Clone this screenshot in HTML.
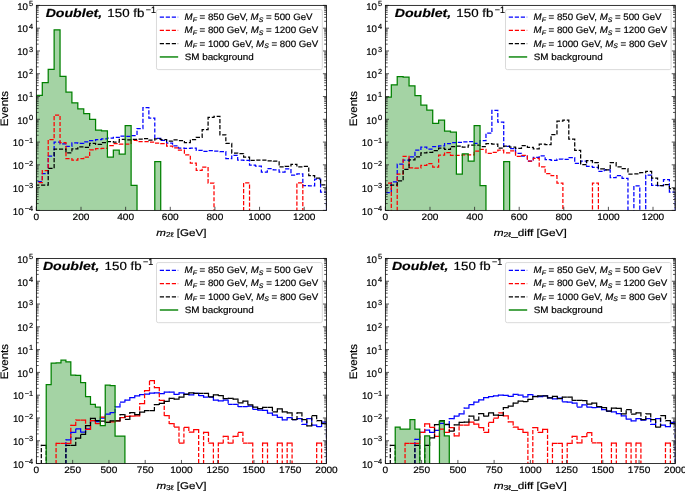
<!DOCTYPE html>
<html><head><meta charset="utf-8"><style>
html,body{margin:0;padding:0;background:#fff;width:685px;height:492px;overflow:hidden}
svg{display:block;will-change:transform}
text{font-family:"Liberation Sans", sans-serif;text-rendering:geometricPrecision;stroke:#000;stroke-width:0.18px}
</style></head><body>
<svg width="685" height="492" viewBox="0 0 685 492">
<rect width="685" height="492" fill="#fff"/>
<clipPath id="cTL"><rect x="36.37" y="5.4" width="290.13" height="205"/></clipPath>
<g clip-path="url(#cTL)">
<path d="M36.37 240.4 L36.37 95.4 L42.29 95.4 L42.29 82.5 L48.21 82.5 L48.21 69.3 L54.13 69.3 L54.13 29.8 L60.05 29.8 L60.05 76.3 L65.98 76.3 L65.98 92.2 L71.9 92.2 L71.9 102.8 L77.82 102.8 L77.82 108.9 L83.74 108.9 L83.74 113.7 L89.66 113.7 L89.66 119.3 L95.58 119.3 L95.58 130.1 L101.5 130.1 L101.5 130.8 L107.42 130.8 L107.42 157.2 L113.34 157.2 L113.34 150.2 L119.26 150.2 L119.26 154.2 L125.19 154.2 L125.19 125.5 L131.11 125.5 L131.11 185.4 L137.03 185.4 L137.03 240.4 L142.95 240.4 L148.87 240.4 L154.79 240.4 L154.79 161.5 L160.71 161.5 L160.71 240.4 L166.63 240.4 L172.55 240.4 L178.47 240.4 L184.4 240.4 L190.32 240.4 L196.24 240.4 L202.16 240.4 L208.08 240.4 L214 240.4 L219.92 240.4 L225.84 240.4 L231.76 240.4 L237.68 240.4 L243.61 240.4 L249.53 240.4 L255.45 240.4 L261.37 240.4 L267.29 240.4 L273.21 240.4 L279.13 240.4 L285.05 240.4 L290.97 240.4 L296.89 240.4 L302.82 240.4 L308.74 240.4 L314.66 240.4 L320.58 240.4 L326.5 240.4 Z" fill="#a4d3a4" stroke="none"/>
<path d="M36.37 240.4 L36.37 181.7 L42.29 181.7 L42.29 173.5 L48.21 173.5 L48.21 156 L54.13 156 L54.13 142 L60.05 142 L60.05 143.8 L65.98 143.8 L65.98 146.3 L71.9 146.3 L71.9 142.8 L77.82 142.8 L77.82 143.3 L83.74 143.3 L83.74 141.8 L89.66 141.8 L89.66 140.7 L95.58 140.7 L95.58 139.7 L101.5 139.7 L101.5 138.9 L107.42 138.9 L107.42 138.2 L113.34 138.2 L113.34 137.4 L119.26 137.4 L119.26 136.1 L125.19 136.1 L125.19 136.3 L131.11 136.3 L131.11 135.5 L137.03 135.5 L137.03 128.6 L142.95 128.6 L142.95 107.6 L148.87 107.6 L148.87 118.1 L154.79 118.1 L154.79 138.4 L160.71 138.4 L160.71 140.4 L166.63 140.4 L166.63 143 L172.55 143 L172.55 145.8 L178.47 145.8 L178.47 148 L184.4 148 L184.4 148.3 L190.32 148.3 L190.32 148.1 L196.24 148.1 L196.24 150.4 L202.16 150.4 L202.16 151.4 L208.08 151.4 L208.08 150.7 L214 150.7 L214 151.2 L219.92 151.2 L219.92 151.6 L225.84 151.6 L225.84 158.6 L231.76 158.6 L231.76 155.3 L237.68 155.3 L237.68 160.1 L243.61 160.1 L243.61 160.4 L249.53 160.4 L249.53 165.2 L255.45 165.2 L255.45 166.2 L261.37 166.2 L261.37 172 L267.29 172 L267.29 168.7 L273.21 168.7 L273.21 169.8 L279.13 169.8 L279.13 172 L285.05 172 L285.05 168.9 L290.97 168.9 L290.97 175 L296.89 175 L296.89 173.8 L302.82 173.8 L302.82 185.7 L308.74 185.7 L308.74 185.9 L314.66 185.9 L314.66 179.1 L320.58 179.1 L320.58 192 L326.5 192 L326.5 240.4" fill="none" stroke="#0000ff" stroke-width="1.25" stroke-dasharray="4.2 1.8" stroke-linejoin="miter"/>
<path d="M36.37 240.4 L36.37 182.7 L42.29 182.7 L42.29 170.7 L48.21 170.7 L48.21 139.5 L54.13 139.5 L54.13 115 L60.05 115 L60.05 142.5 L65.98 142.5 L65.98 158.6 L71.9 158.6 L71.9 160.1 L77.82 160.1 L77.82 158.6 L83.74 158.6 L83.74 157 L89.66 157 L89.66 149.8 L95.58 149.8 L95.58 148.6 L101.5 148.6 L101.5 148.4 L107.42 148.4 L107.42 145.5 L113.34 145.5 L113.34 143.7 L119.26 143.7 L119.26 144 L125.19 144 L131.11 144 L131.11 140.4 L137.03 140.4 L137.03 141.5 L142.95 141.5 L148.87 141.5 L148.87 142 L154.79 142 L154.79 143 L160.71 143 L160.71 143.5 L166.63 143.5 L166.63 146.2 L172.55 146.2 L172.55 147.8 L178.47 147.8 L178.47 150.2 L184.4 150.2 L184.4 154.8 L190.32 154.8 L190.32 163.2 L196.24 163.2 L196.24 170.4 L202.16 170.4 L202.16 167 L208.08 167 L208.08 183.2 L214 183.2 L214 240.4 L219.92 240.4 L225.84 240.4 L231.76 240.4 L237.68 240.4 L243.61 240.4 L243.61 182.8 L249.53 182.8 L249.53 240.4 L255.45 240.4 L261.37 240.4 L267.29 240.4 L273.21 240.4 L279.13 240.4 L285.05 240.4 L290.97 240.4 L296.89 240.4 L296.89 182.8 L302.82 182.8 L302.82 240.4 L308.74 240.4 L314.66 240.4 L320.58 240.4 L326.5 240.4" fill="none" stroke="#ff0000" stroke-width="1.25" stroke-dasharray="4.2 1.8" stroke-linejoin="miter"/>
<path d="M36.37 240.4 L36.37 185.1 L42.29 185.1 L48.21 185.1 L48.21 168.4 L54.13 168.4 L54.13 149 L60.05 149 L65.98 149 L65.98 152.8 L71.9 152.8 L71.9 148.9 L77.82 148.9 L77.82 146.9 L83.74 146.9 L83.74 147.4 L89.66 147.4 L89.66 143.3 L95.58 143.3 L95.58 144.3 L101.5 144.3 L101.5 142.5 L107.42 142.5 L107.42 141.5 L113.34 141.5 L113.34 142 L119.26 142 L119.26 139.4 L125.19 139.4 L125.19 139.9 L131.11 139.9 L131.11 139.4 L137.03 139.4 L137.03 139.2 L142.95 139.2 L142.95 138.6 L148.87 138.6 L148.87 140.2 L154.79 140.2 L154.79 138.9 L160.71 138.9 L160.71 139.6 L166.63 139.6 L166.63 141.2 L172.55 141.2 L172.55 139.9 L178.47 139.9 L178.47 140.5 L184.4 140.5 L184.4 142.5 L190.32 142.5 L190.32 139.6 L196.24 139.6 L196.24 137.4 L202.16 137.4 L202.16 129.6 L208.08 129.6 L208.08 117.4 L214 117.4 L214 116.3 L219.92 116.3 L219.92 134.8 L225.84 134.8 L225.84 143.4 L231.76 143.4 L231.76 153 L237.68 153 L237.68 153.5 L243.61 153.5 L243.61 157 L249.53 157 L249.53 160.4 L255.45 160.4 L255.45 160.1 L261.37 160.1 L267.29 160.1 L267.29 160.8 L273.21 160.8 L273.21 161.2 L279.13 161.2 L279.13 166.9 L285.05 166.9 L285.05 166.4 L290.97 166.4 L290.97 164.3 L296.89 164.3 L296.89 166.9 L302.82 166.9 L302.82 166.4 L308.74 166.4 L308.74 175.5 L314.66 175.5 L314.66 178.1 L320.58 178.1 L320.58 184.9 L326.5 184.9 L326.5 240.4" fill="none" stroke="#000000" stroke-width="1.25" stroke-dasharray="4.2 1.8" stroke-linejoin="miter"/>
<path d="M36.37 240.4 L36.37 95.4 L42.29 95.4 L42.29 82.5 L48.21 82.5 L48.21 69.3 L54.13 69.3 L54.13 29.8 L60.05 29.8 L60.05 76.3 L65.98 76.3 L65.98 92.2 L71.9 92.2 L71.9 102.8 L77.82 102.8 L77.82 108.9 L83.74 108.9 L83.74 113.7 L89.66 113.7 L89.66 119.3 L95.58 119.3 L95.58 130.1 L101.5 130.1 L101.5 130.8 L107.42 130.8 L107.42 157.2 L113.34 157.2 L113.34 150.2 L119.26 150.2 L119.26 154.2 L125.19 154.2 L125.19 125.5 L131.11 125.5 L131.11 185.4 L137.03 185.4 L137.03 240.4 L142.95 240.4 L148.87 240.4 L154.79 240.4 L154.79 161.5 L160.71 161.5 L160.71 240.4 L166.63 240.4 L172.55 240.4 L178.47 240.4 L184.4 240.4 L190.32 240.4 L196.24 240.4 L202.16 240.4 L208.08 240.4 L214 240.4 L219.92 240.4 L225.84 240.4 L231.76 240.4 L237.68 240.4 L243.61 240.4 L249.53 240.4 L255.45 240.4 L261.37 240.4 L267.29 240.4 L273.21 240.4 L279.13 240.4 L285.05 240.4 L290.97 240.4 L296.89 240.4 L302.82 240.4 L308.74 240.4 L314.66 240.4 L320.58 240.4 L326.5 240.4" fill="none" stroke="#008000" stroke-width="1.25" stroke-linejoin="miter"/>
</g>
<path d="M36.37 210.4h3.6 M326.5 210.4h-3.6 M36.37 203.54h2.3 M326.5 203.54h-2.3 M36.37 199.53h2.3 M326.5 199.53h-2.3 M36.37 196.69h2.3 M326.5 196.69h-2.3 M36.37 194.48h2.3 M326.5 194.48h-2.3 M36.37 192.68h2.3 M326.5 192.68h-2.3 M36.37 191.15h2.3 M326.5 191.15h-2.3 M36.37 189.83h2.3 M326.5 189.83h-2.3 M36.37 188.66h2.3 M326.5 188.66h-2.3 M36.37 187.62h3.6 M326.5 187.62h-3.6 M36.37 180.77h2.3 M326.5 180.77h-2.3 M36.37 176.75h2.3 M326.5 176.75h-2.3 M36.37 173.91h2.3 M326.5 173.91h-2.3 M36.37 171.7h2.3 M326.5 171.7h-2.3 M36.37 169.9h2.3 M326.5 169.9h-2.3 M36.37 168.37h2.3 M326.5 168.37h-2.3 M36.37 167.05h2.3 M326.5 167.05h-2.3 M36.37 165.89h2.3 M326.5 165.89h-2.3 M36.37 164.84h3.6 M326.5 164.84h-3.6 M36.37 157.99h2.3 M326.5 157.99h-2.3 M36.37 153.98h2.3 M326.5 153.98h-2.3 M36.37 151.13h2.3 M326.5 151.13h-2.3 M36.37 148.92h2.3 M326.5 148.92h-2.3 M36.37 147.12h2.3 M326.5 147.12h-2.3 M36.37 145.59h2.3 M326.5 145.59h-2.3 M36.37 144.27h2.3 M326.5 144.27h-2.3 M36.37 143.11h2.3 M326.5 143.11h-2.3 M36.37 142.07h3.6 M326.5 142.07h-3.6 M36.37 135.21h2.3 M326.5 135.21h-2.3 M36.37 131.2h2.3 M326.5 131.2h-2.3 M36.37 128.35h2.3 M326.5 128.35h-2.3 M36.37 126.15h2.3 M326.5 126.15h-2.3 M36.37 124.34h2.3 M326.5 124.34h-2.3 M36.37 122.82h2.3 M326.5 122.82h-2.3 M36.37 121.5h2.3 M326.5 121.5h-2.3 M36.37 120.33h2.3 M326.5 120.33h-2.3 M36.37 119.29h3.6 M326.5 119.29h-3.6 M36.37 112.43h2.3 M326.5 112.43h-2.3 M36.37 108.42h2.3 M326.5 108.42h-2.3 M36.37 105.58h2.3 M326.5 105.58h-2.3 M36.37 103.37h2.3 M326.5 103.37h-2.3 M36.37 101.56h2.3 M326.5 101.56h-2.3 M36.37 100.04h2.3 M326.5 100.04h-2.3 M36.37 98.72h2.3 M326.5 98.72h-2.3 M36.37 97.55h2.3 M326.5 97.55h-2.3 M36.37 96.51h3.6 M326.5 96.51h-3.6 M36.37 89.65h2.3 M326.5 89.65h-2.3 M36.37 85.64h2.3 M326.5 85.64h-2.3 M36.37 82.8h2.3 M326.5 82.8h-2.3 M36.37 80.59h2.3 M326.5 80.59h-2.3 M36.37 78.79h2.3 M326.5 78.79h-2.3 M36.37 77.26h2.3 M326.5 77.26h-2.3 M36.37 75.94h2.3 M326.5 75.94h-2.3 M36.37 74.78h2.3 M326.5 74.78h-2.3 M36.37 73.73h3.6 M326.5 73.73h-3.6 M36.37 66.88h2.3 M326.5 66.88h-2.3 M36.37 62.87h2.3 M326.5 62.87h-2.3 M36.37 60.02h2.3 M326.5 60.02h-2.3 M36.37 57.81h2.3 M326.5 57.81h-2.3 M36.37 56.01h2.3 M326.5 56.01h-2.3 M36.37 54.48h2.3 M326.5 54.48h-2.3 M36.37 53.16h2.3 M326.5 53.16h-2.3 M36.37 52h2.3 M326.5 52h-2.3 M36.37 50.96h3.6 M326.5 50.96h-3.6 M36.37 44.1h2.3 M326.5 44.1h-2.3 M36.37 40.09h2.3 M326.5 40.09h-2.3 M36.37 37.24h2.3 M326.5 37.24h-2.3 M36.37 35.03h2.3 M326.5 35.03h-2.3 M36.37 33.23h2.3 M326.5 33.23h-2.3 M36.37 31.71h2.3 M326.5 31.71h-2.3 M36.37 30.39h2.3 M326.5 30.39h-2.3 M36.37 29.22h2.3 M326.5 29.22h-2.3 M36.37 28.18h3.6 M326.5 28.18h-3.6 M36.37 21.32h2.3 M326.5 21.32h-2.3 M36.37 17.31h2.3 M326.5 17.31h-2.3 M36.37 14.46h2.3 M326.5 14.46h-2.3 M36.37 12.26h2.3 M326.5 12.26h-2.3 M36.37 10.45h2.3 M326.5 10.45h-2.3 M36.37 8.93h2.3 M326.5 8.93h-2.3 M36.37 7.61h2.3 M326.5 7.61h-2.3 M36.37 6.44h2.3 M326.5 6.44h-2.3 M36.37 5.4h3.6 M326.5 5.4h-3.6 M36.37 210.4v-3.6 M81.01 210.4v-3.6 M125.64 210.4v-3.6 M170.28 210.4v-3.6 M214.91 210.4v-3.6 M259.55 210.4v-3.6 M304.18 210.4v-3.6" stroke="#2a2a2a" stroke-width="0.8" fill="none"/>
<rect x="36.37" y="5.4" width="290.13" height="205" fill="none" stroke="#111" stroke-width="0.85"/>
<text x="33.07" y="214.7" font-size="9.7" text-anchor="end" fill="#000">10<tspan dx="1.0" dy="-3.6" font-size="7.4">−4</tspan></text>
<text x="33.07" y="191.92" font-size="9.7" text-anchor="end" fill="#000">10<tspan dx="1.0" dy="-3.6" font-size="7.4">−3</tspan></text>
<text x="33.07" y="169.14" font-size="9.7" text-anchor="end" fill="#000">10<tspan dx="1.0" dy="-3.6" font-size="7.4">−2</tspan></text>
<text x="33.07" y="146.37" font-size="9.7" text-anchor="end" fill="#000">10<tspan dx="1.0" dy="-3.6" font-size="7.4">−1</tspan></text>
<text x="33.07" y="123.59" font-size="9.7" text-anchor="end" fill="#000">10<tspan dx="1.0" dy="-3.6" font-size="7.4">0</tspan></text>
<text x="33.07" y="100.81" font-size="9.7" text-anchor="end" fill="#000">10<tspan dx="1.0" dy="-3.6" font-size="7.4">1</tspan></text>
<text x="33.07" y="78.03" font-size="9.7" text-anchor="end" fill="#000">10<tspan dx="1.0" dy="-3.6" font-size="7.4">2</tspan></text>
<text x="33.07" y="55.26" font-size="9.7" text-anchor="end" fill="#000">10<tspan dx="1.0" dy="-3.6" font-size="7.4">3</tspan></text>
<text x="33.07" y="32.48" font-size="9.7" text-anchor="end" fill="#000">10<tspan dx="1.0" dy="-3.6" font-size="7.4">4</tspan></text>
<text x="33.07" y="9.7" font-size="9.7" text-anchor="end" fill="#000">10<tspan dx="1.0" dy="-3.6" font-size="7.4">5</tspan></text>
<text x="36.37" y="220.3" font-size="9.3" text-anchor="middle" textLength="5.6" lengthAdjust="spacingAndGlyphs" fill="#000">0</text>
<text x="81.01" y="220.3" font-size="9.3" text-anchor="middle" textLength="16.8" lengthAdjust="spacingAndGlyphs" fill="#000">200</text>
<text x="125.64" y="220.3" font-size="9.3" text-anchor="middle" textLength="16.8" lengthAdjust="spacingAndGlyphs" fill="#000">400</text>
<text x="170.28" y="220.3" font-size="9.3" text-anchor="middle" textLength="16.8" lengthAdjust="spacingAndGlyphs" fill="#000">600</text>
<text x="214.91" y="220.3" font-size="9.3" text-anchor="middle" textLength="16.8" lengthAdjust="spacingAndGlyphs" fill="#000">800</text>
<text x="259.55" y="220.3" font-size="9.3" text-anchor="middle" textLength="22.4" lengthAdjust="spacingAndGlyphs" fill="#000">1000</text>
<text x="304.18" y="220.3" font-size="9.3" text-anchor="middle" textLength="22.4" lengthAdjust="spacingAndGlyphs" fill="#000">1200</text>
<text x="156.37" y="235.7" font-size="9.8" textLength="50" lengthAdjust="spacingAndGlyphs" fill="#000"><tspan font-style="italic">m</tspan><tspan font-size="7.2" dy="1.6">2ℓ</tspan><tspan dy="-1.6"> [GeV]</tspan></text>
<text transform="translate(7.67 126.2) rotate(-90)" font-size="10.8" textLength="35.3" lengthAdjust="spacingAndGlyphs" fill="#000">Events</text>
<text x="45.67" y="17.1" font-size="11.8" textLength="56.5" lengthAdjust="spacingAndGlyphs" font-weight="bold" font-style="italic" stroke="#000" stroke-width="0.25" fill="#000">Doublet,</text>
<text x="107.37" y="17.1" font-size="11.8" textLength="37" lengthAdjust="spacingAndGlyphs" fill="#000">150 fb</text>
<text x="145.82" y="12.7" font-size="9.3" textLength="10.2" lengthAdjust="spacingAndGlyphs" fill="#000">−1</text>
<rect x="156.47" y="9.5" width="165.83" height="60.1" rx="1.8" fill="#fff" fill-opacity="0.8" stroke="#d6d6d6" stroke-width="0.9"/>
<path d="M159.77 17.2H178.17" stroke="#0000ff" stroke-width="1.25" stroke-dasharray="4.2 1.8"/>
<text x="184.57" y="20" font-size="9.3" textLength="128" lengthAdjust="spacingAndGlyphs" fill="#000"><tspan font-style="italic">M</tspan><tspan font-style="italic" font-size="6.6" dy="1.6">F</tspan><tspan dy="-1.6"> = 850 GeV, </tspan><tspan font-style="italic">M</tspan><tspan font-style="italic" font-size="6.6" dy="1.6">S</tspan><tspan dy="-1.6"> = 500 GeV</tspan></text>
<path d="M159.77 30.45H178.17" stroke="#ff0000" stroke-width="1.25" stroke-dasharray="4.2 1.8"/>
<text x="184.57" y="33.25" font-size="9.3" textLength="133.6" lengthAdjust="spacingAndGlyphs" fill="#000"><tspan font-style="italic">M</tspan><tspan font-style="italic" font-size="6.6" dy="1.6">F</tspan><tspan dy="-1.6"> = 800 GeV, </tspan><tspan font-style="italic">M</tspan><tspan font-style="italic" font-size="6.6" dy="1.6">S</tspan><tspan dy="-1.6"> = 1200 GeV</tspan></text>
<path d="M159.77 43.7H178.17" stroke="#000000" stroke-width="1.25" stroke-dasharray="4.2 1.8"/>
<text x="184.57" y="46.5" font-size="9.3" textLength="133.6" lengthAdjust="spacingAndGlyphs" fill="#000"><tspan font-style="italic">M</tspan><tspan font-style="italic" font-size="6.6" dy="1.6">F</tspan><tspan dy="-1.6"> = 1000 GeV, </tspan><tspan font-style="italic">M</tspan><tspan font-style="italic" font-size="6.6" dy="1.6">S</tspan><tspan dy="-1.6"> = 800 GeV</tspan></text>
<path d="M159.77 56.95H178.17" stroke="#008000" stroke-width="1.4"/>
<text x="184.67" y="59.75" font-size="9.3" textLength="69" lengthAdjust="spacingAndGlyphs" fill="#000">SM background</text>
<clipPath id="cTR"><rect x="385.39" y="5.4" width="289.91" height="205"/></clipPath>
<g clip-path="url(#cTR)">
<path d="M385.39 240.4 L385.39 97 L391.31 97 L391.31 84.8 L397.22 84.8 L397.22 76.6 L403.14 76.6 L403.14 77.2 L409.06 77.2 L409.06 85.8 L414.97 85.8 L414.97 95.6 L420.89 95.6 L420.89 105.2 L426.81 105.2 L426.81 110.2 L432.72 110.2 L432.72 123.3 L438.64 123.3 L438.64 120.2 L444.56 120.2 L444.56 131.2 L450.47 131.2 L450.47 132.2 L456.39 132.2 L456.39 174.2 L462.3 174.2 L462.3 153.8 L468.22 153.8 L468.22 161 L474.14 161 L474.14 125.5 L480.05 125.5 L480.05 185.5 L485.97 185.5 L485.97 240.4 L491.89 240.4 L497.8 240.4 L503.72 240.4 L503.72 161.5 L509.64 161.5 L509.64 240.4 L515.55 240.4 L521.47 240.4 L527.39 240.4 L533.3 240.4 L539.22 240.4 L545.14 240.4 L551.05 240.4 L556.97 240.4 L562.89 240.4 L568.8 240.4 L574.72 240.4 L580.64 240.4 L586.55 240.4 L592.47 240.4 L598.39 240.4 L604.3 240.4 L610.22 240.4 L616.13 240.4 L622.05 240.4 L627.97 240.4 L633.88 240.4 L639.8 240.4 L645.72 240.4 L651.63 240.4 L657.55 240.4 L663.47 240.4 L669.38 240.4 L675.3 240.4 Z" fill="#a4d3a4" stroke="none"/>
<path d="M385.39 240.4 L385.39 192.6 L391.31 192.6 L391.31 181.9 L397.22 181.9 L397.22 164.2 L403.14 164.2 L403.14 160.2 L409.06 160.2 L409.06 156.9 L414.97 156.9 L414.97 150.2 L420.89 150.2 L420.89 147.2 L426.81 147.2 L426.81 149 L432.72 149 L432.72 146.6 L438.64 146.6 L438.64 145.9 L444.56 145.9 L444.56 143.6 L450.47 143.6 L450.47 142.7 L456.39 142.7 L456.39 142.4 L462.3 142.4 L462.3 141.9 L468.22 141.9 L468.22 141.7 L474.14 141.7 L474.14 143.4 L480.05 143.4 L480.05 140.7 L485.97 140.7 L485.97 133.2 L491.89 133.2 L491.89 110.4 L497.8 110.4 L497.8 122 L503.72 122 L503.72 146.3 L509.64 146.3 L509.64 148.7 L515.55 148.7 L515.55 153.3 L521.47 153.3 L521.47 156.1 L527.39 156.1 L527.39 161 L533.3 161 L533.3 157.4 L539.22 157.4 L539.22 155.8 L545.14 155.8 L545.14 159.6 L551.05 159.6 L551.05 160.4 L556.97 160.4 L556.97 159.2 L562.89 159.2 L562.89 159.4 L568.8 159.4 L568.8 157.5 L574.72 157.5 L574.72 163.4 L580.64 163.4 L580.64 161.2 L586.55 161.2 L586.55 166.3 L592.47 166.3 L592.47 167.3 L598.39 167.3 L598.39 171.4 L604.3 171.4 L604.3 169.9 L610.22 169.9 L610.22 177.7 L616.13 177.7 L616.13 175.5 L622.05 175.5 L622.05 178.4 L627.97 178.4 L627.97 240.4 L633.88 240.4 L633.88 185.9 L639.8 185.9 L639.8 240.4 L645.72 240.4 L645.72 175 L651.63 175 L651.63 185.3 L657.55 185.3 L657.55 185.6 L663.47 185.6 L663.47 179.6 L669.38 179.6 L669.38 192.2 L675.3 192.2 L675.3 240.4" fill="none" stroke="#0000ff" stroke-width="1.25" stroke-dasharray="4.2 1.8" stroke-linejoin="miter"/>
<path d="M385.39 240.4 L385.39 183 L391.31 183 L391.31 240.4 L397.22 240.4 L397.22 174.1 L403.14 174.1 L403.14 156.3 L409.06 156.3 L409.06 167.8 L414.97 167.8 L414.97 168.1 L420.89 168.1 L420.89 165.3 L426.81 165.3 L426.81 163.7 L432.72 163.7 L432.72 167.1 L438.64 167.1 L438.64 155.1 L444.56 155.1 L444.56 152.5 L450.47 152.5 L450.47 155.3 L456.39 155.3 L462.3 155.3 L462.3 154.8 L468.22 154.8 L474.14 154.8 L474.14 151 L480.05 151 L480.05 149.4 L485.97 149.4 L485.97 153.3 L491.89 153.3 L491.89 152.3 L497.8 152.3 L497.8 150.2 L503.72 150.2 L503.72 152.8 L509.64 152.8 L509.64 150.9 L515.55 150.9 L515.55 156.3 L521.47 156.3 L521.47 155.3 L527.39 155.3 L527.39 161 L533.3 161 L533.3 158.4 L539.22 158.4 L539.22 166.8 L545.14 166.8 L545.14 173.6 L551.05 173.6 L551.05 175.7 L556.97 175.7 L556.97 183.1 L562.89 183.1 L562.89 240.4 L568.8 240.4 L574.72 240.4 L580.64 240.4 L586.55 240.4 L592.47 240.4 L592.47 183.2 L598.39 183.2 L598.39 240.4 L604.3 240.4 L610.22 240.4 L616.13 240.4 L622.05 240.4 L627.97 240.4 L633.88 240.4 L639.8 240.4 L645.72 240.4 L651.63 240.4 L657.55 240.4 L663.47 240.4 L669.38 240.4 L675.3 240.4" fill="none" stroke="#ff0000" stroke-width="1.25" stroke-dasharray="4.2 1.8" stroke-linejoin="miter"/>
<path d="M385.39 240.4 L385.39 185 L391.31 185 L397.22 185 L397.22 180.9 L403.14 180.9 L403.14 169.3 L409.06 169.3 L409.06 159.9 L414.97 159.9 L414.97 156.9 L420.89 156.9 L420.89 152.8 L426.81 152.8 L426.81 152.3 L432.72 152.3 L432.72 150.7 L438.64 150.7 L438.64 148.2 L444.56 148.2 L444.56 149.4 L450.47 149.4 L450.47 146.5 L456.39 146.5 L456.39 146 L462.3 146 L462.3 147.2 L468.22 147.2 L468.22 145 L474.14 145 L480.05 145 L480.05 146.5 L485.97 146.5 L485.97 143.7 L491.89 143.7 L491.89 144.1 L497.8 144.1 L497.8 148 L503.72 148 L503.72 146 L509.64 146 L509.64 147.2 L515.55 147.2 L515.55 148.3 L521.47 148.3 L521.47 145.6 L527.39 145.6 L527.39 147.3 L533.3 147.3 L533.3 148.8 L539.22 148.8 L539.22 144.2 L545.14 144.2 L545.14 144.7 L551.05 144.7 L551.05 134.7 L556.97 134.7 L556.97 121.2 L562.89 121.2 L562.89 120.2 L568.8 120.2 L568.8 139 L574.72 139 L574.72 150.3 L580.64 150.3 L580.64 164.7 L586.55 164.7 L586.55 160.7 L592.47 160.7 L592.47 162.7 L598.39 162.7 L598.39 168.8 L604.3 168.8 L604.3 169.9 L610.22 169.9 L610.22 162.6 L616.13 162.6 L616.13 166.9 L622.05 166.9 L622.05 168.7 L627.97 168.7 L627.97 174 L633.88 174 L633.88 173.9 L639.8 173.9 L639.8 172.7 L645.72 172.7 L645.72 171.4 L651.63 171.4 L651.63 178 L657.55 178 L657.55 185.6 L663.47 185.6 L663.47 184.7 L669.38 184.7 L669.38 188.5 L675.3 188.5 L675.3 240.4" fill="none" stroke="#000000" stroke-width="1.25" stroke-dasharray="4.2 1.8" stroke-linejoin="miter"/>
<path d="M385.39 240.4 L385.39 97 L391.31 97 L391.31 84.8 L397.22 84.8 L397.22 76.6 L403.14 76.6 L403.14 77.2 L409.06 77.2 L409.06 85.8 L414.97 85.8 L414.97 95.6 L420.89 95.6 L420.89 105.2 L426.81 105.2 L426.81 110.2 L432.72 110.2 L432.72 123.3 L438.64 123.3 L438.64 120.2 L444.56 120.2 L444.56 131.2 L450.47 131.2 L450.47 132.2 L456.39 132.2 L456.39 174.2 L462.3 174.2 L462.3 153.8 L468.22 153.8 L468.22 161 L474.14 161 L474.14 125.5 L480.05 125.5 L480.05 185.5 L485.97 185.5 L485.97 240.4 L491.89 240.4 L497.8 240.4 L503.72 240.4 L503.72 161.5 L509.64 161.5 L509.64 240.4 L515.55 240.4 L521.47 240.4 L527.39 240.4 L533.3 240.4 L539.22 240.4 L545.14 240.4 L551.05 240.4 L556.97 240.4 L562.89 240.4 L568.8 240.4 L574.72 240.4 L580.64 240.4 L586.55 240.4 L592.47 240.4 L598.39 240.4 L604.3 240.4 L610.22 240.4 L616.13 240.4 L622.05 240.4 L627.97 240.4 L633.88 240.4 L639.8 240.4 L645.72 240.4 L651.63 240.4 L657.55 240.4 L663.47 240.4 L669.38 240.4 L675.3 240.4" fill="none" stroke="#008000" stroke-width="1.25" stroke-linejoin="miter"/>
</g>
<path d="M385.39 210.4h3.6 M675.3 210.4h-3.6 M385.39 203.54h2.3 M675.3 203.54h-2.3 M385.39 199.53h2.3 M675.3 199.53h-2.3 M385.39 196.69h2.3 M675.3 196.69h-2.3 M385.39 194.48h2.3 M675.3 194.48h-2.3 M385.39 192.68h2.3 M675.3 192.68h-2.3 M385.39 191.15h2.3 M675.3 191.15h-2.3 M385.39 189.83h2.3 M675.3 189.83h-2.3 M385.39 188.66h2.3 M675.3 188.66h-2.3 M385.39 187.62h3.6 M675.3 187.62h-3.6 M385.39 180.77h2.3 M675.3 180.77h-2.3 M385.39 176.75h2.3 M675.3 176.75h-2.3 M385.39 173.91h2.3 M675.3 173.91h-2.3 M385.39 171.7h2.3 M675.3 171.7h-2.3 M385.39 169.9h2.3 M675.3 169.9h-2.3 M385.39 168.37h2.3 M675.3 168.37h-2.3 M385.39 167.05h2.3 M675.3 167.05h-2.3 M385.39 165.89h2.3 M675.3 165.89h-2.3 M385.39 164.84h3.6 M675.3 164.84h-3.6 M385.39 157.99h2.3 M675.3 157.99h-2.3 M385.39 153.98h2.3 M675.3 153.98h-2.3 M385.39 151.13h2.3 M675.3 151.13h-2.3 M385.39 148.92h2.3 M675.3 148.92h-2.3 M385.39 147.12h2.3 M675.3 147.12h-2.3 M385.39 145.59h2.3 M675.3 145.59h-2.3 M385.39 144.27h2.3 M675.3 144.27h-2.3 M385.39 143.11h2.3 M675.3 143.11h-2.3 M385.39 142.07h3.6 M675.3 142.07h-3.6 M385.39 135.21h2.3 M675.3 135.21h-2.3 M385.39 131.2h2.3 M675.3 131.2h-2.3 M385.39 128.35h2.3 M675.3 128.35h-2.3 M385.39 126.15h2.3 M675.3 126.15h-2.3 M385.39 124.34h2.3 M675.3 124.34h-2.3 M385.39 122.82h2.3 M675.3 122.82h-2.3 M385.39 121.5h2.3 M675.3 121.5h-2.3 M385.39 120.33h2.3 M675.3 120.33h-2.3 M385.39 119.29h3.6 M675.3 119.29h-3.6 M385.39 112.43h2.3 M675.3 112.43h-2.3 M385.39 108.42h2.3 M675.3 108.42h-2.3 M385.39 105.58h2.3 M675.3 105.58h-2.3 M385.39 103.37h2.3 M675.3 103.37h-2.3 M385.39 101.56h2.3 M675.3 101.56h-2.3 M385.39 100.04h2.3 M675.3 100.04h-2.3 M385.39 98.72h2.3 M675.3 98.72h-2.3 M385.39 97.55h2.3 M675.3 97.55h-2.3 M385.39 96.51h3.6 M675.3 96.51h-3.6 M385.39 89.65h2.3 M675.3 89.65h-2.3 M385.39 85.64h2.3 M675.3 85.64h-2.3 M385.39 82.8h2.3 M675.3 82.8h-2.3 M385.39 80.59h2.3 M675.3 80.59h-2.3 M385.39 78.79h2.3 M675.3 78.79h-2.3 M385.39 77.26h2.3 M675.3 77.26h-2.3 M385.39 75.94h2.3 M675.3 75.94h-2.3 M385.39 74.78h2.3 M675.3 74.78h-2.3 M385.39 73.73h3.6 M675.3 73.73h-3.6 M385.39 66.88h2.3 M675.3 66.88h-2.3 M385.39 62.87h2.3 M675.3 62.87h-2.3 M385.39 60.02h2.3 M675.3 60.02h-2.3 M385.39 57.81h2.3 M675.3 57.81h-2.3 M385.39 56.01h2.3 M675.3 56.01h-2.3 M385.39 54.48h2.3 M675.3 54.48h-2.3 M385.39 53.16h2.3 M675.3 53.16h-2.3 M385.39 52h2.3 M675.3 52h-2.3 M385.39 50.96h3.6 M675.3 50.96h-3.6 M385.39 44.1h2.3 M675.3 44.1h-2.3 M385.39 40.09h2.3 M675.3 40.09h-2.3 M385.39 37.24h2.3 M675.3 37.24h-2.3 M385.39 35.03h2.3 M675.3 35.03h-2.3 M385.39 33.23h2.3 M675.3 33.23h-2.3 M385.39 31.71h2.3 M675.3 31.71h-2.3 M385.39 30.39h2.3 M675.3 30.39h-2.3 M385.39 29.22h2.3 M675.3 29.22h-2.3 M385.39 28.18h3.6 M675.3 28.18h-3.6 M385.39 21.32h2.3 M675.3 21.32h-2.3 M385.39 17.31h2.3 M675.3 17.31h-2.3 M385.39 14.46h2.3 M675.3 14.46h-2.3 M385.39 12.26h2.3 M675.3 12.26h-2.3 M385.39 10.45h2.3 M675.3 10.45h-2.3 M385.39 8.93h2.3 M675.3 8.93h-2.3 M385.39 7.61h2.3 M675.3 7.61h-2.3 M385.39 6.44h2.3 M675.3 6.44h-2.3 M385.39 5.4h3.6 M675.3 5.4h-3.6 M385.39 210.4v-3.6 M429.99 210.4v-3.6 M474.59 210.4v-3.6 M519.19 210.4v-3.6 M563.8 210.4v-3.6 M608.4 210.4v-3.6 M653 210.4v-3.6" stroke="#2a2a2a" stroke-width="0.8" fill="none"/>
<rect x="385.39" y="5.4" width="289.91" height="205" fill="none" stroke="#111" stroke-width="0.85"/>
<text x="382.09" y="214.7" font-size="9.7" text-anchor="end" fill="#000">10<tspan dx="1.0" dy="-3.6" font-size="7.4">−4</tspan></text>
<text x="382.09" y="191.92" font-size="9.7" text-anchor="end" fill="#000">10<tspan dx="1.0" dy="-3.6" font-size="7.4">−3</tspan></text>
<text x="382.09" y="169.14" font-size="9.7" text-anchor="end" fill="#000">10<tspan dx="1.0" dy="-3.6" font-size="7.4">−2</tspan></text>
<text x="382.09" y="146.37" font-size="9.7" text-anchor="end" fill="#000">10<tspan dx="1.0" dy="-3.6" font-size="7.4">−1</tspan></text>
<text x="382.09" y="123.59" font-size="9.7" text-anchor="end" fill="#000">10<tspan dx="1.0" dy="-3.6" font-size="7.4">0</tspan></text>
<text x="382.09" y="100.81" font-size="9.7" text-anchor="end" fill="#000">10<tspan dx="1.0" dy="-3.6" font-size="7.4">1</tspan></text>
<text x="382.09" y="78.03" font-size="9.7" text-anchor="end" fill="#000">10<tspan dx="1.0" dy="-3.6" font-size="7.4">2</tspan></text>
<text x="382.09" y="55.26" font-size="9.7" text-anchor="end" fill="#000">10<tspan dx="1.0" dy="-3.6" font-size="7.4">3</tspan></text>
<text x="382.09" y="32.48" font-size="9.7" text-anchor="end" fill="#000">10<tspan dx="1.0" dy="-3.6" font-size="7.4">4</tspan></text>
<text x="382.09" y="9.7" font-size="9.7" text-anchor="end" fill="#000">10<tspan dx="1.0" dy="-3.6" font-size="7.4">5</tspan></text>
<text x="385.39" y="220.3" font-size="9.3" text-anchor="middle" textLength="5.6" lengthAdjust="spacingAndGlyphs" fill="#000">0</text>
<text x="429.99" y="220.3" font-size="9.3" text-anchor="middle" textLength="16.8" lengthAdjust="spacingAndGlyphs" fill="#000">200</text>
<text x="474.59" y="220.3" font-size="9.3" text-anchor="middle" textLength="16.8" lengthAdjust="spacingAndGlyphs" fill="#000">400</text>
<text x="519.19" y="220.3" font-size="9.3" text-anchor="middle" textLength="16.8" lengthAdjust="spacingAndGlyphs" fill="#000">600</text>
<text x="563.8" y="220.3" font-size="9.3" text-anchor="middle" textLength="16.8" lengthAdjust="spacingAndGlyphs" fill="#000">800</text>
<text x="608.4" y="220.3" font-size="9.3" text-anchor="middle" textLength="22.4" lengthAdjust="spacingAndGlyphs" fill="#000">1000</text>
<text x="653" y="220.3" font-size="9.3" text-anchor="middle" textLength="22.4" lengthAdjust="spacingAndGlyphs" fill="#000">1200</text>
<text x="493.69" y="235.7" font-size="9.8" textLength="73.1" lengthAdjust="spacingAndGlyphs" fill="#000"><tspan font-style="italic">m</tspan><tspan font-size="7.2" dy="1.6">2ℓ</tspan><tspan dy="-1.6">_diff [GeV]</tspan></text>
<text transform="translate(356.69 126.2) rotate(-90)" font-size="10.8" textLength="35.3" lengthAdjust="spacingAndGlyphs" fill="#000">Events</text>
<text x="394.69" y="17.1" font-size="11.8" textLength="56.5" lengthAdjust="spacingAndGlyphs" font-weight="bold" font-style="italic" stroke="#000" stroke-width="0.25" fill="#000">Doublet,</text>
<text x="456.39" y="17.1" font-size="11.8" textLength="37" lengthAdjust="spacingAndGlyphs" fill="#000">150 fb</text>
<text x="494.84" y="12.7" font-size="9.3" textLength="10.2" lengthAdjust="spacingAndGlyphs" fill="#000">−1</text>
<rect x="505.49" y="9.5" width="165.61" height="60.1" rx="1.8" fill="#fff" fill-opacity="0.8" stroke="#d6d6d6" stroke-width="0.9"/>
<path d="M508.79 17.2H527.19" stroke="#0000ff" stroke-width="1.25" stroke-dasharray="4.2 1.8"/>
<text x="533.59" y="20" font-size="9.3" textLength="128" lengthAdjust="spacingAndGlyphs" fill="#000"><tspan font-style="italic">M</tspan><tspan font-style="italic" font-size="6.6" dy="1.6">F</tspan><tspan dy="-1.6"> = 850 GeV, </tspan><tspan font-style="italic">M</tspan><tspan font-style="italic" font-size="6.6" dy="1.6">S</tspan><tspan dy="-1.6"> = 500 GeV</tspan></text>
<path d="M508.79 30.45H527.19" stroke="#ff0000" stroke-width="1.25" stroke-dasharray="4.2 1.8"/>
<text x="533.59" y="33.25" font-size="9.3" textLength="133.6" lengthAdjust="spacingAndGlyphs" fill="#000"><tspan font-style="italic">M</tspan><tspan font-style="italic" font-size="6.6" dy="1.6">F</tspan><tspan dy="-1.6"> = 800 GeV, </tspan><tspan font-style="italic">M</tspan><tspan font-style="italic" font-size="6.6" dy="1.6">S</tspan><tspan dy="-1.6"> = 1200 GeV</tspan></text>
<path d="M508.79 43.7H527.19" stroke="#000000" stroke-width="1.25" stroke-dasharray="4.2 1.8"/>
<text x="533.59" y="46.5" font-size="9.3" textLength="133.6" lengthAdjust="spacingAndGlyphs" fill="#000"><tspan font-style="italic">M</tspan><tspan font-style="italic" font-size="6.6" dy="1.6">F</tspan><tspan dy="-1.6"> = 1000 GeV, </tspan><tspan font-style="italic">M</tspan><tspan font-style="italic" font-size="6.6" dy="1.6">S</tspan><tspan dy="-1.6"> = 800 GeV</tspan></text>
<path d="M508.79 56.95H527.19" stroke="#008000" stroke-width="1.4"/>
<text x="533.69" y="59.75" font-size="9.3" textLength="69" lengthAdjust="spacingAndGlyphs" fill="#000">SM background</text>
<clipPath id="cBL"><rect x="36.4" y="258.45" width="290.1" height="205.1"/></clipPath>
<g clip-path="url(#cBL)">
<path d="M36.4 493.55 L41.32 493.55 L46.23 493.55 L46.23 384.7 L51.15 384.7 L51.15 363.1 L56.07 363.1 L56.07 362.8 L60.98 362.8 L60.98 360.2 L65.9 360.2 L65.9 361.8 L70.82 361.8 L70.82 375 L75.74 375 L75.74 375.3 L80.65 375.3 L80.65 382.5 L85.57 382.5 L85.57 396.5 L90.49 396.5 L90.49 404.3 L95.4 404.3 L95.4 407.2 L100.32 407.2 L100.32 425.6 L105.24 425.6 L105.24 385.1 L110.15 385.1 L110.15 385.6 L115.07 385.6 L115.07 436 L119.99 436 L124.91 436 L124.91 493.55 L129.82 493.55 L134.74 493.55 L139.66 493.55 L144.57 493.55 L149.49 493.55 L154.41 493.55 L159.32 493.55 L164.24 493.55 L169.16 493.55 L174.07 493.55 L178.99 493.55 L183.91 493.55 L188.83 493.55 L193.74 493.55 L198.66 493.55 L203.58 493.55 L208.49 493.55 L213.41 493.55 L218.33 493.55 L223.24 493.55 L228.16 493.55 L233.08 493.55 L237.99 493.55 L242.91 493.55 L247.83 493.55 L252.75 493.55 L257.66 493.55 L262.58 493.55 L267.5 493.55 L272.41 493.55 L277.33 493.55 L282.25 493.55 L287.16 493.55 L292.08 493.55 L297 493.55 L301.92 493.55 L306.83 493.55 L311.75 493.55 L316.67 493.55 L321.58 493.55 L326.5 493.55 Z" fill="#a4d3a4" stroke="none"/>
<path d="M65.9 439.8H70.82 M70.82 432.3H75.74 M75.74 428.8H80.65 M80.65 432.2H85.57 M85.57 428.8H90.49 M90.49 420.7H95.4 M95.4 421.5H100.32 M100.32 418H105.24 M105.24 414.2H110.15 M110.15 412.5H115.07 M115.07 406.8H119.99 M119.99 402H124.91 M124.91 400.2H129.82 M129.82 397.6H134.74 M134.74 395.8H139.66 M139.66 394.5H144.57 M144.57 394.1H149.49 M149.49 393.1H154.41 M154.41 392.8H159.32 M159.32 393.6H164.24 M164.24 392.2H169.16 M169.16 392.1H174.07 M174.07 394.3H178.99 M178.99 392.8H183.91 M183.91 394.1H188.83 M188.83 394.8H193.74 M193.74 393.3H198.66 M198.66 395.5H203.58 M203.58 397.2H208.49 M208.49 397.2H213.41 M213.41 400.2H218.33 M218.33 400.9H223.24 M223.24 400.2H228.16 M228.16 404.4H233.08 M233.08 404.4H237.99 M237.99 406.5H242.91 M242.91 406.5H247.83 M247.83 406H252.75 M252.75 409.3H257.66 M257.66 410H262.58 M262.58 410.3H267.5 M267.5 413.1H272.41 M272.41 415.1H277.33 M277.33 417.3H282.25 M282.25 419.8H287.16 M287.16 417.7H292.08 M292.08 419.5H297 M297 418.6H301.92 M301.92 424.3H306.83 M306.83 418.6H311.75 M311.75 425.2H316.67 M316.67 426.5H321.58 M321.58 422.2H326.5" fill="none" stroke="#0000ff" stroke-width="1.25" stroke-dasharray="4.6 0.5" stroke-linecap="butt"/>
<path d="M65.9 494.18V439.18 M70.82 440.43V431.68 M75.74 432.93V428.18 M80.65 428.18V432.82 M85.57 432.82V428.18 M90.49 429.43V420.07 M95.4 420.07V422.12 M100.32 422.12V417.38 M105.24 418.62V413.57 M110.15 414.82V411.88 M115.07 413.12V406.18 M119.99 407.43V401.38 M124.91 402.62V399.57 M129.82 400.82V396.98 M134.74 398.23V395.18 M139.66 396.43V393.88 M144.57 395.12V393.48 M149.49 394.73V392.48 M154.41 393.73V392.18 M159.32 392.18V394.23 M164.24 394.23V391.57 M169.16 392.82V391.48 M174.07 391.48V394.93 M178.99 394.93V392.18 M183.91 392.18V394.73 M188.83 393.48V395.43 M193.74 395.43V392.68 M198.66 392.68V396.12 M203.58 394.88V397.82 M213.41 396.57V400.82 M218.33 399.57V401.52 M223.24 401.52V399.57 M228.16 399.57V405.02 M237.99 403.77V407.12 M247.83 407.12V405.38 M252.75 405.38V409.93 M257.66 408.68V410.62 M262.58 409.38V410.93 M267.5 409.68V413.73 M272.41 412.48V415.73 M277.33 414.48V417.93 M282.25 416.68V420.43 M287.16 420.43V417.07 M292.08 417.07V420.12 M297 420.12V417.98 M301.92 417.98V424.93 M306.83 424.93V417.98 M311.75 417.98V425.82 M316.67 424.57V427.12 M321.58 427.12V421.57 M326.5 421.57V493.55" fill="none" stroke="#0000ff" stroke-width="1.25" stroke-dasharray="4.2 1.8" stroke-linecap="butt"/>
<path d="M56.07 443.4H60.98 M60.98 443.4H65.9 M65.9 443.4H70.82 M70.82 425.3H75.74 M75.74 420.1H80.65 M80.65 420.1H85.57 M85.57 429.3H90.49 M90.49 420.5H95.4 M95.4 423.7H100.32 M100.32 417.1H105.24 M105.24 422.4H110.15 M110.15 421.9H115.07 M115.07 420.9H119.99 M119.99 417.6H124.91 M124.91 416.3H129.82 M129.82 416H134.74 M134.74 415.8H139.66 M139.66 403.7H144.57 M144.57 390.7H149.49 M149.49 380.5H154.41 M154.41 387.7H159.32 M159.32 400.4H164.24 M164.24 415.5H169.16 M169.16 423.5H174.07 M174.07 427.1H178.99 M178.99 443H183.91 M183.91 427.3H188.83 M188.83 432.1H193.74 M193.74 429.5H198.66 M203.58 432.3H208.49 M208.49 443H213.41 M218.33 443H223.24 M223.24 436.4H228.16 M228.16 443H233.08 M233.08 436.4H237.99 M237.99 432.3H242.91 M242.91 443H247.83 M247.83 443H252.75 M262.58 443H267.5 M277.33 443H282.25 M287.16 443H292.08 M316.67 443H321.58" fill="none" stroke="#ff0000" stroke-width="1.25" stroke-dasharray="4.6 0.5" stroke-linecap="butt"/>
<path d="M56.07 494.18V442.77 M70.82 444.02V424.68 M75.74 425.93V419.48 M85.57 419.48V429.93 M90.49 429.93V419.88 M95.4 419.88V424.32 M100.32 424.32V416.48 M105.24 416.48V423.02 M110.15 423.02V421.27 M115.07 422.52V420.27 M119.99 421.52V416.98 M124.91 418.23V415.68 M129.82 416.93V415.38 M134.74 416.62V415.18 M139.66 416.43V403.07 M144.57 404.32V390.07 M149.49 391.32V379.88 M154.41 379.88V388.32 M159.32 387.07V401.02 M164.24 399.77V416.12 M169.16 414.88V424.12 M174.07 422.88V427.73 M178.99 426.48V443.62 M183.91 443.62V426.68 M188.83 426.68V432.73 M193.74 432.73V428.88 M198.66 428.88V494.18 M203.58 494.18V431.68 M208.49 431.68V443.62 M213.41 442.38V494.18 M218.33 494.18V442.38 M223.24 443.62V435.77 M228.16 435.77V443.62 M233.08 443.62V435.77 M237.99 437.02V431.68 M242.91 431.68V443.62 M252.75 442.38V494.18 M262.58 494.18V442.38 M267.5 442.38V494.18 M277.33 494.18V442.38 M282.25 442.38V494.18 M287.16 494.18V442.38 M292.08 442.38V494.18 M316.67 494.18V442.38 M321.58 442.38V494.18" fill="none" stroke="#ff0000" stroke-width="1.25" stroke-dasharray="4.2 1.8" stroke-linecap="butt"/>
<path d="M41.32 445.4H46.23 M65.9 445.4H70.82 M70.82 445.4H75.74 M75.74 438.2H80.65 M80.65 434.3H85.57 M85.57 425.5H90.49 M90.49 418.4H95.4 M95.4 420.7H100.32 M100.32 421H105.24 M105.24 422.4H110.15 M110.15 420.9H115.07 M115.07 420.9H119.99 M119.99 414.5H124.91 M124.91 419.3H129.82 M129.82 412.7H134.74 M134.74 414.7H139.66 M139.66 412.2H144.57 M144.57 410.7H149.49 M149.49 410.7H154.41 M154.41 404.5H159.32 M159.32 403.3H164.24 M164.24 401.3H169.16 M169.16 398.4H174.07 M174.07 399.2H178.99 M178.99 397.2H183.91 M183.91 394.3H188.83 M188.83 392.8H193.74 M193.74 393.3H198.66 M198.66 393.3H203.58 M203.58 393.3H208.49 M208.49 396.9H213.41 M213.41 394.8H218.33 M218.33 395.5H223.24 M223.24 398.5H228.16 M228.16 398.3H233.08 M233.08 399.1H237.99 M237.99 402.9H242.91 M242.91 401.1H247.83 M247.83 404.9H252.75 M252.75 407H257.66 M257.66 408.7H262.58 M262.58 407.3H267.5 M267.5 407.3H272.41 M272.41 411.8H277.33 M277.33 408.8H282.25 M282.25 411.9H287.16 M287.16 412.8H292.08 M292.08 419.5H297 M297 412.8H301.92 M301.92 419.5H306.83 M306.83 425.9H311.75 M311.75 415.6H316.67 M316.67 420.6H321.58 M321.58 423.5H326.5" fill="none" stroke="#000000" stroke-width="1.25" stroke-dasharray="4.6 0.5" stroke-linecap="butt"/>
<path d="M41.32 494.18V444.77 M46.23 444.77V494.18 M65.9 494.18V444.77 M75.74 446.02V437.57 M80.65 438.82V433.68 M85.57 434.93V424.88 M90.49 426.12V417.77 M95.4 417.77V421.32 M100.32 420.07V421.62 M105.24 420.38V423.02 M110.15 423.02V420.27 M119.99 421.52V413.88 M124.91 413.88V419.93 M129.82 419.93V412.07 M134.74 412.07V415.32 M139.66 415.32V411.57 M144.57 412.82V410.07 M154.41 411.32V403.88 M159.32 405.12V402.68 M164.24 403.93V400.68 M169.16 401.93V397.77 M174.07 397.77V399.82 M178.99 399.82V396.57 M183.91 397.82V393.68 M188.83 394.93V392.18 M193.74 392.18V393.93 M208.49 392.68V397.52 M213.41 397.52V394.18 M218.33 394.18V396.12 M223.24 394.88V399.12 M228.16 399.12V397.68 M233.08 397.68V399.73 M237.99 398.48V403.52 M242.91 403.52V400.48 M247.83 400.48V405.52 M252.75 404.27V407.62 M257.66 406.38V409.32 M262.58 409.32V406.68 M272.41 406.68V412.43 M277.33 412.43V408.18 M282.25 408.18V412.52 M287.16 411.27V413.43 M292.08 412.18V420.12 M297 420.12V412.18 M301.92 412.18V420.12 M306.83 418.88V426.52 M311.75 426.52V414.98 M316.67 414.98V421.23 M321.58 419.98V424.12 M326.5 422.88V493.55" fill="none" stroke="#000000" stroke-width="1.25" stroke-dasharray="4.2 1.8" stroke-linecap="butt"/>
<path d="M36.4 493.55 L41.32 493.55 L46.23 493.55 L46.23 384.7 L51.15 384.7 L51.15 363.1 L56.07 363.1 L56.07 362.8 L60.98 362.8 L60.98 360.2 L65.9 360.2 L65.9 361.8 L70.82 361.8 L70.82 375 L75.74 375 L75.74 375.3 L80.65 375.3 L80.65 382.5 L85.57 382.5 L85.57 396.5 L90.49 396.5 L90.49 404.3 L95.4 404.3 L95.4 407.2 L100.32 407.2 L100.32 425.6 L105.24 425.6 L105.24 385.1 L110.15 385.1 L110.15 385.6 L115.07 385.6 L115.07 436 L119.99 436 L124.91 436 L124.91 493.55 L129.82 493.55 L134.74 493.55 L139.66 493.55 L144.57 493.55 L149.49 493.55 L154.41 493.55 L159.32 493.55 L164.24 493.55 L169.16 493.55 L174.07 493.55 L178.99 493.55 L183.91 493.55 L188.83 493.55 L193.74 493.55 L198.66 493.55 L203.58 493.55 L208.49 493.55 L213.41 493.55 L218.33 493.55 L223.24 493.55 L228.16 493.55 L233.08 493.55 L237.99 493.55 L242.91 493.55 L247.83 493.55 L252.75 493.55 L257.66 493.55 L262.58 493.55 L267.5 493.55 L272.41 493.55 L277.33 493.55 L282.25 493.55 L287.16 493.55 L292.08 493.55 L297 493.55 L301.92 493.55 L306.83 493.55 L311.75 493.55 L316.67 493.55 L321.58 493.55 L326.5 493.55" fill="none" stroke="#008000" stroke-width="1.25" stroke-linejoin="miter"/>
</g>
<path d="M36.4 463.55h3.6 M326.5 463.55h-3.6 M36.4 456.69h2.3 M326.5 456.69h-2.3 M36.4 452.68h2.3 M326.5 452.68h-2.3 M36.4 449.83h2.3 M326.5 449.83h-2.3 M36.4 447.62h2.3 M326.5 447.62h-2.3 M36.4 445.82h2.3 M326.5 445.82h-2.3 M36.4 444.29h2.3 M326.5 444.29h-2.3 M36.4 442.97h2.3 M326.5 442.97h-2.3 M36.4 441.8h2.3 M326.5 441.8h-2.3 M36.4 440.76h3.6 M326.5 440.76h-3.6 M36.4 433.9h2.3 M326.5 433.9h-2.3 M36.4 429.89h2.3 M326.5 429.89h-2.3 M36.4 427.04h2.3 M326.5 427.04h-2.3 M36.4 424.83h2.3 M326.5 424.83h-2.3 M36.4 423.03h2.3 M326.5 423.03h-2.3 M36.4 421.5h2.3 M326.5 421.5h-2.3 M36.4 420.18h2.3 M326.5 420.18h-2.3 M36.4 419.01h2.3 M326.5 419.01h-2.3 M36.4 417.97h3.6 M326.5 417.97h-3.6 M36.4 411.11h2.3 M326.5 411.11h-2.3 M36.4 407.1h2.3 M326.5 407.1h-2.3 M36.4 404.25h2.3 M326.5 404.25h-2.3 M36.4 402.04h2.3 M326.5 402.04h-2.3 M36.4 400.24h2.3 M326.5 400.24h-2.3 M36.4 398.71h2.3 M326.5 398.71h-2.3 M36.4 397.39h2.3 M326.5 397.39h-2.3 M36.4 396.23h2.3 M326.5 396.23h-2.3 M36.4 395.18h3.6 M326.5 395.18h-3.6 M36.4 388.32h2.3 M326.5 388.32h-2.3 M36.4 384.31h2.3 M326.5 384.31h-2.3 M36.4 381.46h2.3 M326.5 381.46h-2.3 M36.4 379.25h2.3 M326.5 379.25h-2.3 M36.4 377.45h2.3 M326.5 377.45h-2.3 M36.4 375.92h2.3 M326.5 375.92h-2.3 M36.4 374.6h2.3 M326.5 374.6h-2.3 M36.4 373.44h2.3 M326.5 373.44h-2.3 M36.4 372.39h3.6 M326.5 372.39h-3.6 M36.4 365.53h2.3 M326.5 365.53h-2.3 M36.4 361.52h2.3 M326.5 361.52h-2.3 M36.4 358.67h2.3 M326.5 358.67h-2.3 M36.4 356.47h2.3 M326.5 356.47h-2.3 M36.4 354.66h2.3 M326.5 354.66h-2.3 M36.4 353.14h2.3 M326.5 353.14h-2.3 M36.4 351.81h2.3 M326.5 351.81h-2.3 M36.4 350.65h2.3 M326.5 350.65h-2.3 M36.4 349.61h3.6 M326.5 349.61h-3.6 M36.4 342.75h2.3 M326.5 342.75h-2.3 M36.4 338.73h2.3 M326.5 338.73h-2.3 M36.4 335.89h2.3 M326.5 335.89h-2.3 M36.4 333.68h2.3 M326.5 333.68h-2.3 M36.4 331.87h2.3 M326.5 331.87h-2.3 M36.4 330.35h2.3 M326.5 330.35h-2.3 M36.4 329.03h2.3 M326.5 329.03h-2.3 M36.4 327.86h2.3 M326.5 327.86h-2.3 M36.4 326.82h3.6 M326.5 326.82h-3.6 M36.4 319.96h2.3 M326.5 319.96h-2.3 M36.4 315.94h2.3 M326.5 315.94h-2.3 M36.4 313.1h2.3 M326.5 313.1h-2.3 M36.4 310.89h2.3 M326.5 310.89h-2.3 M36.4 309.08h2.3 M326.5 309.08h-2.3 M36.4 307.56h2.3 M326.5 307.56h-2.3 M36.4 306.24h2.3 M326.5 306.24h-2.3 M36.4 305.07h2.3 M326.5 305.07h-2.3 M36.4 304.03h3.6 M326.5 304.03h-3.6 M36.4 297.17h2.3 M326.5 297.17h-2.3 M36.4 293.15h2.3 M326.5 293.15h-2.3 M36.4 290.31h2.3 M326.5 290.31h-2.3 M36.4 288.1h2.3 M326.5 288.1h-2.3 M36.4 286.29h2.3 M326.5 286.29h-2.3 M36.4 284.77h2.3 M326.5 284.77h-2.3 M36.4 283.45h2.3 M326.5 283.45h-2.3 M36.4 282.28h2.3 M326.5 282.28h-2.3 M36.4 281.24h3.6 M326.5 281.24h-3.6 M36.4 274.38h2.3 M326.5 274.38h-2.3 M36.4 270.37h2.3 M326.5 270.37h-2.3 M36.4 267.52h2.3 M326.5 267.52h-2.3 M36.4 265.31h2.3 M326.5 265.31h-2.3 M36.4 263.51h2.3 M326.5 263.51h-2.3 M36.4 261.98h2.3 M326.5 261.98h-2.3 M36.4 260.66h2.3 M326.5 260.66h-2.3 M36.4 259.49h2.3 M326.5 259.49h-2.3 M36.4 258.45h3.6 M326.5 258.45h-3.6 M36.4 463.55v-3.6 M72.66 463.55v-3.6 M108.93 463.55v-3.6 M145.19 463.55v-3.6 M181.45 463.55v-3.6 M217.71 463.55v-3.6 M253.98 463.55v-3.6 M290.24 463.55v-3.6 M326.5 463.55v-3.6" stroke="#2a2a2a" stroke-width="0.8" fill="none"/>
<rect x="36.4" y="258.45" width="290.1" height="205.1" fill="none" stroke="#111" stroke-width="0.85"/>
<text x="33.1" y="467.85" font-size="9.7" text-anchor="end" fill="#000">10<tspan dx="1.0" dy="-3.6" font-size="7.4">−4</tspan></text>
<text x="33.1" y="445.06" font-size="9.7" text-anchor="end" fill="#000">10<tspan dx="1.0" dy="-3.6" font-size="7.4">−3</tspan></text>
<text x="33.1" y="422.27" font-size="9.7" text-anchor="end" fill="#000">10<tspan dx="1.0" dy="-3.6" font-size="7.4">−2</tspan></text>
<text x="33.1" y="399.48" font-size="9.7" text-anchor="end" fill="#000">10<tspan dx="1.0" dy="-3.6" font-size="7.4">−1</tspan></text>
<text x="33.1" y="376.69" font-size="9.7" text-anchor="end" fill="#000">10<tspan dx="1.0" dy="-3.6" font-size="7.4">0</tspan></text>
<text x="33.1" y="353.91" font-size="9.7" text-anchor="end" fill="#000">10<tspan dx="1.0" dy="-3.6" font-size="7.4">1</tspan></text>
<text x="33.1" y="331.12" font-size="9.7" text-anchor="end" fill="#000">10<tspan dx="1.0" dy="-3.6" font-size="7.4">2</tspan></text>
<text x="33.1" y="308.33" font-size="9.7" text-anchor="end" fill="#000">10<tspan dx="1.0" dy="-3.6" font-size="7.4">3</tspan></text>
<text x="33.1" y="285.54" font-size="9.7" text-anchor="end" fill="#000">10<tspan dx="1.0" dy="-3.6" font-size="7.4">4</tspan></text>
<text x="33.1" y="262.75" font-size="9.7" text-anchor="end" fill="#000">10<tspan dx="1.0" dy="-3.6" font-size="7.4">5</tspan></text>
<text x="36.4" y="473.45" font-size="9.3" text-anchor="middle" textLength="5.6" lengthAdjust="spacingAndGlyphs" fill="#000">0</text>
<text x="72.66" y="473.45" font-size="9.3" text-anchor="middle" textLength="16.8" lengthAdjust="spacingAndGlyphs" fill="#000">250</text>
<text x="108.93" y="473.45" font-size="9.3" text-anchor="middle" textLength="16.8" lengthAdjust="spacingAndGlyphs" fill="#000">500</text>
<text x="145.19" y="473.45" font-size="9.3" text-anchor="middle" textLength="16.8" lengthAdjust="spacingAndGlyphs" fill="#000">750</text>
<text x="181.45" y="473.45" font-size="9.3" text-anchor="middle" textLength="22.4" lengthAdjust="spacingAndGlyphs" fill="#000">1000</text>
<text x="217.71" y="473.45" font-size="9.3" text-anchor="middle" textLength="22.4" lengthAdjust="spacingAndGlyphs" fill="#000">1250</text>
<text x="253.98" y="473.45" font-size="9.3" text-anchor="middle" textLength="22.4" lengthAdjust="spacingAndGlyphs" fill="#000">1500</text>
<text x="290.24" y="473.45" font-size="9.3" text-anchor="middle" textLength="22.4" lengthAdjust="spacingAndGlyphs" fill="#000">1750</text>
<text x="326.5" y="473.45" font-size="9.3" text-anchor="middle" textLength="22.4" lengthAdjust="spacingAndGlyphs" fill="#000">2000</text>
<text x="156.4" y="488.85" font-size="9.8" textLength="50" lengthAdjust="spacingAndGlyphs" fill="#000"><tspan font-style="italic">m</tspan><tspan font-size="7.2" dy="1.6">3ℓ</tspan><tspan dy="-1.6"> [GeV]</tspan></text>
<text transform="translate(7.7 379.25) rotate(-90)" font-size="10.8" textLength="35.3" lengthAdjust="spacingAndGlyphs" fill="#000">Events</text>
<text x="42.9" y="269.85" font-size="11.8" textLength="56.5" lengthAdjust="spacingAndGlyphs" font-weight="bold" font-style="italic" stroke="#000" stroke-width="0.25" fill="#000">Doublet,</text>
<text x="104.6" y="269.85" font-size="11.8" textLength="37" lengthAdjust="spacingAndGlyphs" fill="#000">150 fb</text>
<text x="143.05" y="265.45" font-size="9.3" textLength="10.2" lengthAdjust="spacingAndGlyphs" fill="#000">−1</text>
<rect x="156.5" y="262.55" width="165.8" height="60.1" rx="1.8" fill="#fff" fill-opacity="0.8" stroke="#d6d6d6" stroke-width="0.9"/>
<path d="M159.8 270.25H178.2" stroke="#0000ff" stroke-width="1.25" stroke-dasharray="4.2 1.8"/>
<text x="184.6" y="273.05" font-size="9.3" textLength="128" lengthAdjust="spacingAndGlyphs" fill="#000"><tspan font-style="italic">M</tspan><tspan font-style="italic" font-size="6.6" dy="1.6">F</tspan><tspan dy="-1.6"> = 850 GeV, </tspan><tspan font-style="italic">M</tspan><tspan font-style="italic" font-size="6.6" dy="1.6">S</tspan><tspan dy="-1.6"> = 500 GeV</tspan></text>
<path d="M159.8 283.5H178.2" stroke="#ff0000" stroke-width="1.25" stroke-dasharray="4.2 1.8"/>
<text x="184.6" y="286.3" font-size="9.3" textLength="133.6" lengthAdjust="spacingAndGlyphs" fill="#000"><tspan font-style="italic">M</tspan><tspan font-style="italic" font-size="6.6" dy="1.6">F</tspan><tspan dy="-1.6"> = 800 GeV, </tspan><tspan font-style="italic">M</tspan><tspan font-style="italic" font-size="6.6" dy="1.6">S</tspan><tspan dy="-1.6"> = 1200 GeV</tspan></text>
<path d="M159.8 296.75H178.2" stroke="#000000" stroke-width="1.25" stroke-dasharray="4.2 1.8"/>
<text x="184.6" y="299.55" font-size="9.3" textLength="133.6" lengthAdjust="spacingAndGlyphs" fill="#000"><tspan font-style="italic">M</tspan><tspan font-style="italic" font-size="6.6" dy="1.6">F</tspan><tspan dy="-1.6"> = 1000 GeV, </tspan><tspan font-style="italic">M</tspan><tspan font-style="italic" font-size="6.6" dy="1.6">S</tspan><tspan dy="-1.6"> = 800 GeV</tspan></text>
<path d="M159.8 310H178.2" stroke="#008000" stroke-width="1.4"/>
<text x="184.7" y="312.8" font-size="9.3" textLength="69" lengthAdjust="spacingAndGlyphs" fill="#000">SM background</text>
<clipPath id="cBR"><rect x="385.4" y="258.45" width="289.9" height="205.1"/></clipPath>
<g clip-path="url(#cBR)">
<path d="M385.4 493.55 L390.31 493.55 L395.23 493.55 L395.23 427 L400.14 427 L400.14 429 L405.05 429 L409.97 429 L409.97 419.6 L414.88 419.6 L414.88 429 L419.79 429 L419.79 493.55 L424.71 493.55 L424.71 435.9 L429.62 435.9 L429.62 493.55 L434.54 493.55 L439.45 493.55 L439.45 421.1 L444.36 421.1 L444.36 435.9 L449.28 435.9 L449.28 493.55 L454.19 493.55 L459.1 493.55 L464.02 493.55 L468.93 493.55 L473.84 493.55 L478.76 493.55 L483.67 493.55 L488.58 493.55 L493.5 493.55 L498.41 493.55 L503.33 493.55 L508.24 493.55 L513.15 493.55 L518.07 493.55 L522.98 493.55 L527.89 493.55 L532.81 493.55 L537.72 493.55 L542.63 493.55 L547.55 493.55 L552.46 493.55 L557.37 493.55 L562.29 493.55 L567.2 493.55 L572.12 493.55 L577.03 493.55 L581.94 493.55 L586.86 493.55 L591.77 493.55 L596.68 493.55 L601.6 493.55 L606.51 493.55 L611.42 493.55 L616.34 493.55 L621.25 493.55 L626.16 493.55 L631.08 493.55 L635.99 493.55 L640.91 493.55 L645.82 493.55 L650.73 493.55 L655.65 493.55 L660.56 493.55 L665.47 493.55 L670.39 493.55 L675.3 493.55 Z" fill="#a4d3a4" stroke="none"/>
<path d="M414.88 439.4H419.79 M419.79 432.3H424.71 M424.71 430.2H429.62 M429.62 432.3H434.54 M434.54 430.3H439.45 M439.45 423.4H444.36 M444.36 424.6H449.28 M449.28 418.7H454.19 M454.19 416H459.1 M459.1 413.9H464.02 M464.02 408.1H468.93 M468.93 404.7H473.84 M473.84 402H478.76 M478.76 399.9H483.67 M483.67 397.6H488.58 M488.58 396.5H493.5 M493.5 395.9H498.41 M498.41 395.1H503.33 M503.33 395.3H508.24 M508.24 396.3H513.15 M513.15 394.3H518.07 M518.07 395.1H522.98 M522.98 396.9H527.89 M527.89 394.5H532.81 M532.81 396.3H537.72 M537.72 396.6H542.63 M542.63 395.8H547.55 M547.55 397.9H552.46 M552.46 398.9H557.37 M557.37 398.1H562.29 M562.29 401.9H567.2 M567.2 402.2H572.12 M572.12 403.2H577.03 M577.03 407H581.94 M581.94 404.9H586.86 M586.86 407H591.77 M591.77 407.5H596.68 M596.68 407H601.6 M601.6 409.7H606.51 M606.51 411.1H611.42 M611.42 411.8H616.34 M616.34 413.6H621.25 M621.25 415.9H626.16 M626.16 419.2H631.08 M631.08 420.8H635.99 M635.99 418.6H640.91 M640.91 420.2H645.82 M645.82 418.6H650.73 M650.73 424.3H655.65 M655.65 418.6H660.56 M660.56 425.2H665.47 M665.47 426.6H670.39 M670.39 422.3H675.3" fill="none" stroke="#0000ff" stroke-width="1.25" stroke-dasharray="4.6 0.5" stroke-linecap="butt"/>
<path d="M414.88 494.18V438.77 M419.79 440.02V431.68 M424.71 432.93V429.57 M429.62 429.57V432.93 M434.54 432.93V429.68 M439.45 430.93V422.77 M444.36 422.77V425.23 M449.28 425.23V418.07 M454.19 419.32V415.38 M459.1 416.62V413.27 M464.02 414.52V407.48 M468.93 408.73V404.07 M473.84 405.32V401.38 M478.76 402.62V399.27 M483.67 400.52V396.98 M488.58 398.23V395.88 M493.5 397.12V395.27 M498.41 396.52V394.48 M503.33 394.48V395.93 M508.24 394.68V396.93 M513.15 396.93V393.68 M518.07 393.68V395.73 M522.98 394.48V397.52 M527.89 397.52V393.88 M532.81 393.88V396.93 M537.72 395.68V397.23 M542.63 397.23V395.18 M547.55 395.18V398.52 M552.46 397.27V399.52 M557.37 399.52V397.48 M562.29 397.48V402.52 M567.2 401.27V402.82 M572.12 401.57V403.82 M577.03 402.57V407.62 M581.94 407.62V404.27 M586.86 404.27V407.62 M591.77 406.38V408.12 M596.68 408.12V406.38 M601.6 406.38V410.32 M606.51 409.07V411.73 M611.42 410.48V412.43 M616.34 411.18V414.23 M621.25 412.98V416.52 M626.16 415.27V419.82 M631.08 418.57V421.43 M635.99 421.43V417.98 M640.91 417.98V420.82 M645.82 420.82V417.98 M650.73 417.98V424.93 M655.65 424.93V417.98 M660.56 417.98V425.82 M665.47 424.57V427.23 M670.39 427.23V421.68 M675.3 421.68V493.55" fill="none" stroke="#0000ff" stroke-width="1.25" stroke-dasharray="4.2 1.8" stroke-linecap="butt"/>
<path d="M405.05 443.3H409.97 M409.97 443.3H414.88 M414.88 443.3H419.79 M419.79 432.3H424.71 M424.71 423.9H429.62 M429.62 427.4H434.54 M434.54 436.4H439.45 M439.45 429.2H444.36 M444.36 432.3H449.28 M449.28 427.5H454.19 M454.19 435.9H459.1 M459.1 425.1H464.02 M464.02 425.1H468.93 M468.93 422.1H473.84 M473.84 424.1H478.76 M478.76 427.5H483.67 M483.67 432.3H488.58 M488.58 422.4H493.5 M493.5 418H498.41 M498.41 412.9H503.33 M503.33 415.8H508.24 M508.24 421.9H513.15 M513.15 427.2H518.07 M518.07 429.3H522.98 M522.98 432.4H527.89 M532.81 427.5H537.72 M537.72 432.4H542.63 M542.63 429.3H547.55 M552.46 443.4H557.37 M557.37 443.4H562.29 M567.2 443.4H572.12 M572.12 436.4H577.03 M577.03 442.9H581.94 M581.94 436.5H586.86 M586.86 432.5H591.77 M591.77 442.9H596.68 M596.68 442.9H601.6 M611.42 443.1H616.34 M626.16 443.1H631.08 M635.99 443.1H640.91 M665.47 443.1H670.39" fill="none" stroke="#ff0000" stroke-width="1.25" stroke-dasharray="4.6 0.5" stroke-linecap="butt"/>
<path d="M405.05 494.18V442.68 M419.79 443.93V431.68 M424.71 432.93V423.27 M429.62 423.27V428.02 M434.54 426.77V437.02 M439.45 437.02V428.57 M444.36 428.57V432.93 M449.28 432.93V426.88 M454.19 426.88V436.52 M459.1 436.52V424.48 M468.93 425.73V421.48 M473.84 421.48V424.73 M478.76 423.48V428.12 M483.67 426.88V432.93 M488.58 432.93V421.77 M493.5 423.02V417.38 M498.41 418.62V412.27 M503.33 412.27V416.43 M508.24 415.18V422.52 M513.15 421.27V427.82 M518.07 426.57V429.93 M522.98 428.68V433.02 M527.89 431.77V494.18 M532.81 494.18V426.88 M537.72 426.88V433.02 M542.63 433.02V428.68 M547.55 428.68V494.18 M552.46 494.18V442.77 M562.29 442.77V494.18 M567.2 494.18V442.77 M572.12 444.02V435.77 M577.03 435.77V443.52 M581.94 443.52V435.88 M586.86 437.12V431.88 M591.77 431.88V443.52 M601.6 442.27V494.18 M611.42 494.18V442.48 M616.34 442.48V494.18 M626.16 494.18V442.48 M631.08 442.48V494.18 M635.99 494.18V442.48 M640.91 442.48V494.18 M665.47 494.18V442.48 M670.39 442.48V494.18" fill="none" stroke="#ff0000" stroke-width="1.25" stroke-dasharray="4.2 1.8" stroke-linecap="butt"/>
<path d="M390.31 445.3H395.23 M414.88 445.3H419.79 M424.71 445.3H429.62 M429.62 437.9H434.54 M434.54 424.6H439.45 M439.45 420.5H444.36 M444.36 424.4H449.28 M449.28 431H454.19 M454.19 424.8H459.1 M459.1 422.4H464.02 M464.02 422.1H468.93 M468.93 416H473.84 M473.84 420H478.76 M478.76 413.6H483.67 M483.67 416H488.58 M488.58 412.9H493.5 M493.5 415.2H498.41 M498.41 415.3H503.33 M503.33 407.6H508.24 M508.24 406.1H513.15 M513.15 403H518.07 M518.07 401H522.98 M522.98 401.5H527.89 M527.89 399.4H532.81 M532.81 396.6H537.72 M537.72 395.8H542.63 M542.63 395.8H547.55 M547.55 397.9H552.46 M552.46 396.3H557.37 M557.37 398.5H562.29 M562.29 397.1H567.2 M567.2 397.1H572.12 M572.12 400.3H577.03 M577.03 400.3H581.94 M581.94 400.5H586.86 M586.86 404.2H591.77 M591.77 403.2H596.68 M596.68 406.7H601.6 M601.6 407.7H606.51 M606.51 411.1H611.42 M611.42 408H616.34 M616.34 408.3H621.25 M621.25 413.8H626.16 M626.16 409.6H631.08 M631.08 414H635.99 M635.99 412.8H640.91 M640.91 419.5H645.82 M645.82 413.8H650.73 M650.73 419.5H655.65 M655.65 427H660.56 M660.56 415.6H665.47 M665.47 420.6H670.39 M670.39 423.5H675.3" fill="none" stroke="#000000" stroke-width="1.25" stroke-dasharray="4.6 0.5" stroke-linecap="butt"/>
<path d="M390.31 494.18V444.68 M395.23 444.68V494.18 M414.88 494.18V444.68 M419.79 444.68V494.18 M424.71 494.18V444.68 M429.62 445.93V437.27 M434.54 438.52V423.98 M439.45 425.23V419.88 M444.36 419.88V425.02 M449.28 423.77V431.62 M454.19 431.62V424.18 M459.1 425.43V421.77 M464.02 423.02V421.48 M468.93 422.73V415.38 M473.84 415.38V420.62 M478.76 420.62V412.98 M483.67 412.98V416.62 M488.58 416.62V412.27 M493.5 412.27V415.82 M498.41 414.57V415.93 M503.33 415.93V406.98 M508.24 408.23V405.48 M513.15 406.73V402.38 M518.07 403.62V400.38 M522.98 400.38V402.12 M527.89 402.12V398.77 M532.81 400.02V395.98 M537.72 397.23V395.18 M547.55 395.18V398.52 M552.46 398.52V395.68 M557.37 395.68V399.12 M562.29 399.12V396.48 M572.12 396.48V400.93 M581.94 399.68V401.12 M586.86 399.88V404.82 M591.77 404.82V402.57 M596.68 402.57V407.32 M601.6 406.07V408.32 M606.51 407.07V411.73 M611.42 411.73V407.38 M616.34 407.38V408.93 M621.25 407.68V414.43 M626.16 414.43V408.98 M631.08 408.98V414.62 M635.99 414.62V412.18 M640.91 412.18V420.12 M645.82 420.12V413.18 M650.73 413.18V420.12 M655.65 418.88V427.62 M660.56 427.62V414.98 M665.47 414.98V421.23 M670.39 419.98V424.12 M675.3 422.88V493.55" fill="none" stroke="#000000" stroke-width="1.25" stroke-dasharray="4.2 1.8" stroke-linecap="butt"/>
<path d="M385.4 493.55 L390.31 493.55 L395.23 493.55 L395.23 427 L400.14 427 L400.14 429 L405.05 429 L409.97 429 L409.97 419.6 L414.88 419.6 L414.88 429 L419.79 429 L419.79 493.55 L424.71 493.55 L424.71 435.9 L429.62 435.9 L429.62 493.55 L434.54 493.55 L439.45 493.55 L439.45 421.1 L444.36 421.1 L444.36 435.9 L449.28 435.9 L449.28 493.55 L454.19 493.55 L459.1 493.55 L464.02 493.55 L468.93 493.55 L473.84 493.55 L478.76 493.55 L483.67 493.55 L488.58 493.55 L493.5 493.55 L498.41 493.55 L503.33 493.55 L508.24 493.55 L513.15 493.55 L518.07 493.55 L522.98 493.55 L527.89 493.55 L532.81 493.55 L537.72 493.55 L542.63 493.55 L547.55 493.55 L552.46 493.55 L557.37 493.55 L562.29 493.55 L567.2 493.55 L572.12 493.55 L577.03 493.55 L581.94 493.55 L586.86 493.55 L591.77 493.55 L596.68 493.55 L601.6 493.55 L606.51 493.55 L611.42 493.55 L616.34 493.55 L621.25 493.55 L626.16 493.55 L631.08 493.55 L635.99 493.55 L640.91 493.55 L645.82 493.55 L650.73 493.55 L655.65 493.55 L660.56 493.55 L665.47 493.55 L670.39 493.55 L675.3 493.55" fill="none" stroke="#008000" stroke-width="1.25" stroke-linejoin="miter"/>
</g>
<path d="M385.4 463.55h3.6 M675.3 463.55h-3.6 M385.4 456.69h2.3 M675.3 456.69h-2.3 M385.4 452.68h2.3 M675.3 452.68h-2.3 M385.4 449.83h2.3 M675.3 449.83h-2.3 M385.4 447.62h2.3 M675.3 447.62h-2.3 M385.4 445.82h2.3 M675.3 445.82h-2.3 M385.4 444.29h2.3 M675.3 444.29h-2.3 M385.4 442.97h2.3 M675.3 442.97h-2.3 M385.4 441.8h2.3 M675.3 441.8h-2.3 M385.4 440.76h3.6 M675.3 440.76h-3.6 M385.4 433.9h2.3 M675.3 433.9h-2.3 M385.4 429.89h2.3 M675.3 429.89h-2.3 M385.4 427.04h2.3 M675.3 427.04h-2.3 M385.4 424.83h2.3 M675.3 424.83h-2.3 M385.4 423.03h2.3 M675.3 423.03h-2.3 M385.4 421.5h2.3 M675.3 421.5h-2.3 M385.4 420.18h2.3 M675.3 420.18h-2.3 M385.4 419.01h2.3 M675.3 419.01h-2.3 M385.4 417.97h3.6 M675.3 417.97h-3.6 M385.4 411.11h2.3 M675.3 411.11h-2.3 M385.4 407.1h2.3 M675.3 407.1h-2.3 M385.4 404.25h2.3 M675.3 404.25h-2.3 M385.4 402.04h2.3 M675.3 402.04h-2.3 M385.4 400.24h2.3 M675.3 400.24h-2.3 M385.4 398.71h2.3 M675.3 398.71h-2.3 M385.4 397.39h2.3 M675.3 397.39h-2.3 M385.4 396.23h2.3 M675.3 396.23h-2.3 M385.4 395.18h3.6 M675.3 395.18h-3.6 M385.4 388.32h2.3 M675.3 388.32h-2.3 M385.4 384.31h2.3 M675.3 384.31h-2.3 M385.4 381.46h2.3 M675.3 381.46h-2.3 M385.4 379.25h2.3 M675.3 379.25h-2.3 M385.4 377.45h2.3 M675.3 377.45h-2.3 M385.4 375.92h2.3 M675.3 375.92h-2.3 M385.4 374.6h2.3 M675.3 374.6h-2.3 M385.4 373.44h2.3 M675.3 373.44h-2.3 M385.4 372.39h3.6 M675.3 372.39h-3.6 M385.4 365.53h2.3 M675.3 365.53h-2.3 M385.4 361.52h2.3 M675.3 361.52h-2.3 M385.4 358.67h2.3 M675.3 358.67h-2.3 M385.4 356.47h2.3 M675.3 356.47h-2.3 M385.4 354.66h2.3 M675.3 354.66h-2.3 M385.4 353.14h2.3 M675.3 353.14h-2.3 M385.4 351.81h2.3 M675.3 351.81h-2.3 M385.4 350.65h2.3 M675.3 350.65h-2.3 M385.4 349.61h3.6 M675.3 349.61h-3.6 M385.4 342.75h2.3 M675.3 342.75h-2.3 M385.4 338.73h2.3 M675.3 338.73h-2.3 M385.4 335.89h2.3 M675.3 335.89h-2.3 M385.4 333.68h2.3 M675.3 333.68h-2.3 M385.4 331.87h2.3 M675.3 331.87h-2.3 M385.4 330.35h2.3 M675.3 330.35h-2.3 M385.4 329.03h2.3 M675.3 329.03h-2.3 M385.4 327.86h2.3 M675.3 327.86h-2.3 M385.4 326.82h3.6 M675.3 326.82h-3.6 M385.4 319.96h2.3 M675.3 319.96h-2.3 M385.4 315.94h2.3 M675.3 315.94h-2.3 M385.4 313.1h2.3 M675.3 313.1h-2.3 M385.4 310.89h2.3 M675.3 310.89h-2.3 M385.4 309.08h2.3 M675.3 309.08h-2.3 M385.4 307.56h2.3 M675.3 307.56h-2.3 M385.4 306.24h2.3 M675.3 306.24h-2.3 M385.4 305.07h2.3 M675.3 305.07h-2.3 M385.4 304.03h3.6 M675.3 304.03h-3.6 M385.4 297.17h2.3 M675.3 297.17h-2.3 M385.4 293.15h2.3 M675.3 293.15h-2.3 M385.4 290.31h2.3 M675.3 290.31h-2.3 M385.4 288.1h2.3 M675.3 288.1h-2.3 M385.4 286.29h2.3 M675.3 286.29h-2.3 M385.4 284.77h2.3 M675.3 284.77h-2.3 M385.4 283.45h2.3 M675.3 283.45h-2.3 M385.4 282.28h2.3 M675.3 282.28h-2.3 M385.4 281.24h3.6 M675.3 281.24h-3.6 M385.4 274.38h2.3 M675.3 274.38h-2.3 M385.4 270.37h2.3 M675.3 270.37h-2.3 M385.4 267.52h2.3 M675.3 267.52h-2.3 M385.4 265.31h2.3 M675.3 265.31h-2.3 M385.4 263.51h2.3 M675.3 263.51h-2.3 M385.4 261.98h2.3 M675.3 261.98h-2.3 M385.4 260.66h2.3 M675.3 260.66h-2.3 M385.4 259.49h2.3 M675.3 259.49h-2.3 M385.4 258.45h3.6 M675.3 258.45h-3.6 M385.4 463.55v-3.6 M421.64 463.55v-3.6 M457.88 463.55v-3.6 M494.11 463.55v-3.6 M530.35 463.55v-3.6 M566.59 463.55v-3.6 M602.82 463.55v-3.6 M639.06 463.55v-3.6 M675.3 463.55v-3.6" stroke="#2a2a2a" stroke-width="0.8" fill="none"/>
<rect x="385.4" y="258.45" width="289.9" height="205.1" fill="none" stroke="#111" stroke-width="0.85"/>
<text x="382.1" y="467.85" font-size="9.7" text-anchor="end" fill="#000">10<tspan dx="1.0" dy="-3.6" font-size="7.4">−4</tspan></text>
<text x="382.1" y="445.06" font-size="9.7" text-anchor="end" fill="#000">10<tspan dx="1.0" dy="-3.6" font-size="7.4">−3</tspan></text>
<text x="382.1" y="422.27" font-size="9.7" text-anchor="end" fill="#000">10<tspan dx="1.0" dy="-3.6" font-size="7.4">−2</tspan></text>
<text x="382.1" y="399.48" font-size="9.7" text-anchor="end" fill="#000">10<tspan dx="1.0" dy="-3.6" font-size="7.4">−1</tspan></text>
<text x="382.1" y="376.69" font-size="9.7" text-anchor="end" fill="#000">10<tspan dx="1.0" dy="-3.6" font-size="7.4">0</tspan></text>
<text x="382.1" y="353.91" font-size="9.7" text-anchor="end" fill="#000">10<tspan dx="1.0" dy="-3.6" font-size="7.4">1</tspan></text>
<text x="382.1" y="331.12" font-size="9.7" text-anchor="end" fill="#000">10<tspan dx="1.0" dy="-3.6" font-size="7.4">2</tspan></text>
<text x="382.1" y="308.33" font-size="9.7" text-anchor="end" fill="#000">10<tspan dx="1.0" dy="-3.6" font-size="7.4">3</tspan></text>
<text x="382.1" y="285.54" font-size="9.7" text-anchor="end" fill="#000">10<tspan dx="1.0" dy="-3.6" font-size="7.4">4</tspan></text>
<text x="382.1" y="262.75" font-size="9.7" text-anchor="end" fill="#000">10<tspan dx="1.0" dy="-3.6" font-size="7.4">5</tspan></text>
<text x="385.4" y="473.45" font-size="9.3" text-anchor="middle" textLength="5.6" lengthAdjust="spacingAndGlyphs" fill="#000">0</text>
<text x="421.64" y="473.45" font-size="9.3" text-anchor="middle" textLength="16.8" lengthAdjust="spacingAndGlyphs" fill="#000">250</text>
<text x="457.88" y="473.45" font-size="9.3" text-anchor="middle" textLength="16.8" lengthAdjust="spacingAndGlyphs" fill="#000">500</text>
<text x="494.11" y="473.45" font-size="9.3" text-anchor="middle" textLength="16.8" lengthAdjust="spacingAndGlyphs" fill="#000">750</text>
<text x="530.35" y="473.45" font-size="9.3" text-anchor="middle" textLength="22.4" lengthAdjust="spacingAndGlyphs" fill="#000">1000</text>
<text x="566.59" y="473.45" font-size="9.3" text-anchor="middle" textLength="22.4" lengthAdjust="spacingAndGlyphs" fill="#000">1250</text>
<text x="602.82" y="473.45" font-size="9.3" text-anchor="middle" textLength="22.4" lengthAdjust="spacingAndGlyphs" fill="#000">1500</text>
<text x="639.06" y="473.45" font-size="9.3" text-anchor="middle" textLength="22.4" lengthAdjust="spacingAndGlyphs" fill="#000">1750</text>
<text x="675.3" y="473.45" font-size="9.3" text-anchor="middle" textLength="22.4" lengthAdjust="spacingAndGlyphs" fill="#000">2000</text>
<text x="493.7" y="488.85" font-size="9.8" textLength="73.1" lengthAdjust="spacingAndGlyphs" fill="#000"><tspan font-style="italic">m</tspan><tspan font-size="7.2" dy="1.6">3ℓ</tspan><tspan dy="-1.6">_diff [GeV]</tspan></text>
<text transform="translate(356.7 379.25) rotate(-90)" font-size="10.8" textLength="35.3" lengthAdjust="spacingAndGlyphs" fill="#000">Events</text>
<text x="391.9" y="269.85" font-size="11.8" textLength="56.5" lengthAdjust="spacingAndGlyphs" font-weight="bold" font-style="italic" stroke="#000" stroke-width="0.25" fill="#000">Doublet,</text>
<text x="453.6" y="269.85" font-size="11.8" textLength="37" lengthAdjust="spacingAndGlyphs" fill="#000">150 fb</text>
<text x="492.05" y="265.45" font-size="9.3" textLength="10.2" lengthAdjust="spacingAndGlyphs" fill="#000">−1</text>
<rect x="505.5" y="262.55" width="165.6" height="60.1" rx="1.8" fill="#fff" fill-opacity="0.8" stroke="#d6d6d6" stroke-width="0.9"/>
<path d="M508.8 270.25H527.2" stroke="#0000ff" stroke-width="1.25" stroke-dasharray="4.2 1.8"/>
<text x="533.6" y="273.05" font-size="9.3" textLength="128" lengthAdjust="spacingAndGlyphs" fill="#000"><tspan font-style="italic">M</tspan><tspan font-style="italic" font-size="6.6" dy="1.6">F</tspan><tspan dy="-1.6"> = 850 GeV, </tspan><tspan font-style="italic">M</tspan><tspan font-style="italic" font-size="6.6" dy="1.6">S</tspan><tspan dy="-1.6"> = 500 GeV</tspan></text>
<path d="M508.8 283.5H527.2" stroke="#ff0000" stroke-width="1.25" stroke-dasharray="4.2 1.8"/>
<text x="533.6" y="286.3" font-size="9.3" textLength="133.6" lengthAdjust="spacingAndGlyphs" fill="#000"><tspan font-style="italic">M</tspan><tspan font-style="italic" font-size="6.6" dy="1.6">F</tspan><tspan dy="-1.6"> = 800 GeV, </tspan><tspan font-style="italic">M</tspan><tspan font-style="italic" font-size="6.6" dy="1.6">S</tspan><tspan dy="-1.6"> = 1200 GeV</tspan></text>
<path d="M508.8 296.75H527.2" stroke="#000000" stroke-width="1.25" stroke-dasharray="4.2 1.8"/>
<text x="533.6" y="299.55" font-size="9.3" textLength="133.6" lengthAdjust="spacingAndGlyphs" fill="#000"><tspan font-style="italic">M</tspan><tspan font-style="italic" font-size="6.6" dy="1.6">F</tspan><tspan dy="-1.6"> = 1000 GeV, </tspan><tspan font-style="italic">M</tspan><tspan font-style="italic" font-size="6.6" dy="1.6">S</tspan><tspan dy="-1.6"> = 800 GeV</tspan></text>
<path d="M508.8 310H527.2" stroke="#008000" stroke-width="1.4"/>
<text x="533.7" y="312.8" font-size="9.3" textLength="69" lengthAdjust="spacingAndGlyphs" fill="#000">SM background</text>
</svg>
</body></html>
